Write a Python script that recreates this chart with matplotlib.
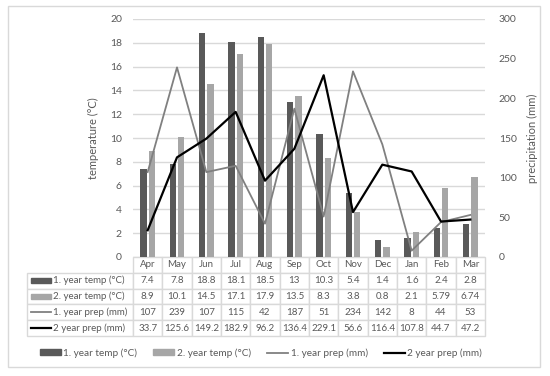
import numpy as np
import matplotlib
matplotlib.use("Agg")
import matplotlib.pyplot as plt
from matplotlib.patches import Rectangle
from matplotlib.lines import Line2D

plt.rcParams['font.family'] = ['Lato', 'DejaVu Sans']

# data
months = ["Apr", "May", "Jun", "Jul", "Aug", "Sep", "Oct", "Nov", "Dec", "Jan", "Feb", "Mar"]
temp1 = [7.4, 7.8, 18.8, 18.1, 18.5, 13, 10.3, 5.4, 1.4, 1.6, 2.4, 2.8]
temp2 = [8.9, 10.1, 14.5, 17.1, 17.9, 13.5, 8.3, 3.8, 0.8, 2.1, 5.79, 6.74]
prep1 = [107, 239, 107, 115, 42, 187, 51, 234, 142, 8, 44, 53]
prep2 = [33.7, 125.6, 149.2, 182.9, 96.2, 136.4, 229.1, 56.6, 116.4, 107.8, 44.7, 47.2]
temp1_txt = ["7.4", "7.8", "18.8", "18.1", "18.5", "13", "10.3", "5.4", "1.4", "1.6", "2.4", "2.8"]
temp2_txt = ["8.9", "10.1", "14.5", "17.1", "17.9", "13.5", "8.3", "3.8", "0.8", "2.1", "5.79", "6.74"]
prep1_txt = ["107", "239", "107", "115", "42", "187", "51", "234", "142", "8", "44", "53"]
prep2_txt = ["33.7", "125.6", "149.2", "182.9", "96.2", "136.4", "229.1", "56.6", "116.4", "107.8", "44.7", "47.2"]
labels = ["1. year temp (°C)", "2. year temp (°C)", "1. year prep (mm)", "2 year prep (mm)"]

dark = '#595959'
light = '#A6A6A6'
gray_line = '#808080'
txt = '#595959'
grid = '#D9D9D9'
lw1, lw2 = 1.3, 1.6

W, H = 550, 376
fig = plt.figure(figsize=(W / 100, H / 100), dpi=100)

# outer border
fig.patches.append(Rectangle((8 / W, 1 - 367 / H), 532 / W, 361 / H, transform=fig.transFigure,
                             fill=False, edgecolor=grid, linewidth=1))

ax = fig.add_axes([133 / W, 1 - 257 / H, 352 / W, 238 / H])
x = np.arange(len(months))
ax.bar(x - 0.14, temp1, width=0.22, color=dark, zorder=2)
ax.bar(x + 0.14, temp2, width=0.22, color=light, zorder=2)
ax.set_xlim(-0.5, 11.5)
ax.set_ylim(0, 20)
ax.set_yticks(range(0, 21, 2))
ax.set_xticks([])
ax.yaxis.grid(True, color=grid, linewidth=1, zorder=0)
ax.set_axisbelow(True)
for s in ax.spines.values():
    s.set_visible(False)
ax.tick_params(axis='y', length=0, pad=8, labelsize=7.5, labelcolor=txt)
ax.set_ylabel("temperature (°C)", color=txt, fontsize=8, labelpad=8)

ax2 = ax.twinx()
ax2.plot(x, prep1, color=gray_line, linewidth=lw1, zorder=3)
ax2.plot(x, prep2, color='black', linewidth=lw2, zorder=3)
ax2.set_ylim(0, 300)
ax2.set_yticks(range(0, 301, 50))
for s in ax2.spines.values():
    s.set_visible(False)
ax2.tick_params(axis='y', length=0, pad=10, labelsize=7.5, labelcolor=txt)
ax2.set_ylabel("precipitation (mm)", color=txt, fontsize=8, labelpad=7)

# data table under the axis
cell_text = [[""] + temp1_txt, [""] + temp2_txt, [""] + prep1_txt, [""] + prep2_txt]
col_w = [106 / 458] + [29.33 / 458] * 12
tbl = ax.table(cellText=cell_text, colLabels=[""] + months, colWidths=col_w,
               cellLoc='center', bbox=[-106 / 352, -79 / 238, 458 / 352, 79 / 238])
tbl.auto_set_font_size(False)
tbl.set_fontsize(7)
for (r, c), cell in tbl.get_celld().items():
    cell.set_edgecolor(grid)
    cell.set_linewidth(1)
    cell.get_text().set_color(txt)
tbl[0, 0].visible_edges = 'open'

# row labels with key swatches
row_h = 79 / 238 / 5
for i, lab in enumerate(labels):
    yc = -row_h * (i + 1.5)
    ax.text(-80 / 352, yc, lab, transform=ax.transAxes, ha='left', va='center',
            fontsize=7, color=txt)
    x0, x1 = -102 / 352, -82 / 352
    if i < 2:
        ax.add_patch(Rectangle((x0, yc - 2.5 / 238), x1 - x0, 5 / 238, transform=ax.transAxes,
                               color=[dark, light][i], clip_on=False))
    else:
        ax.add_line(Line2D([x0, x1], [yc, yc], transform=ax.transAxes,
                           color=[gray_line, 'black'][i - 2], linewidth=[lw1, lw2][i - 2],
                           clip_on=False))

handles = [Rectangle((0, 0), 1, 1, color=dark), Rectangle((0, 0), 1, 1, color=light),
           Line2D([], [], color=gray_line, linewidth=lw1), Line2D([], [], color='black', linewidth=lw2)]
leg = fig.legend(handles, labels, loc='center', bbox_to_anchor=(261 / W, 1 - 353 / H), ncol=4,
                 frameon=False, fontsize=7.2, handlelength=2.1, handleheight=0.5,
                 handletextpad=0.25, columnspacing=1.6, labelcolor=txt)

fig.savefig("out.png", dpi=100)
